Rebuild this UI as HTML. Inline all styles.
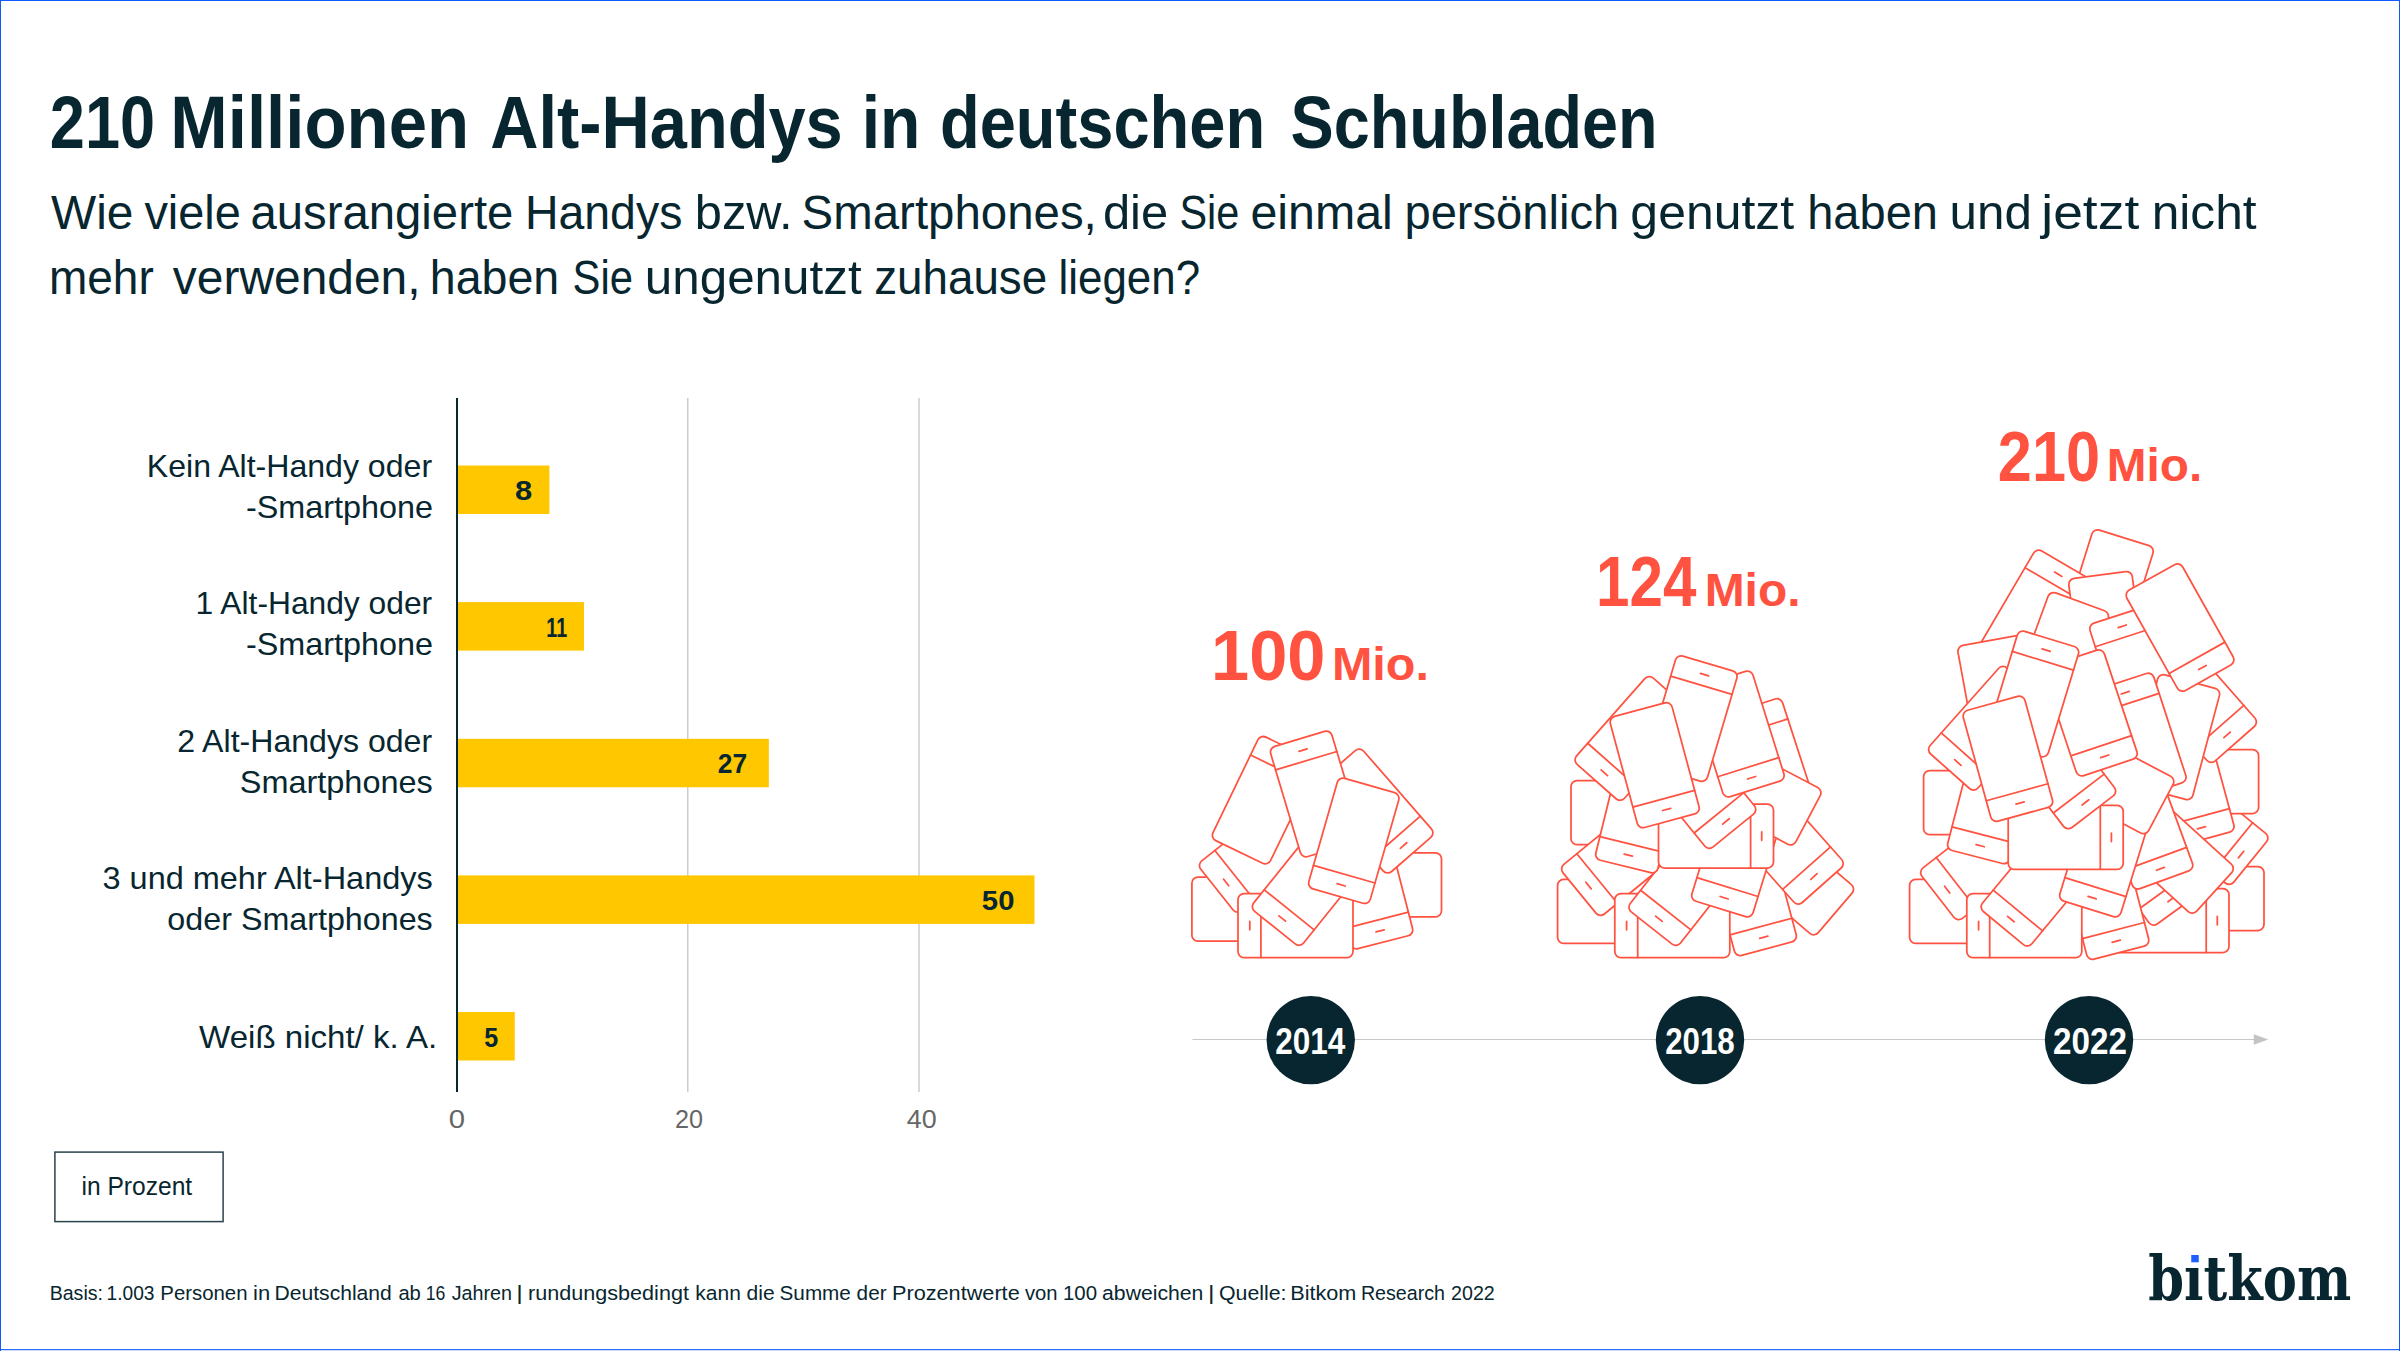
<!DOCTYPE html>
<html lang="de"><head><meta charset="utf-8"><title>210 Millionen Alt-Handys in deutschen Schubladen</title>
<style>
html,body{margin:0;padding:0;background:#ffffff;}
body{width:2400px;height:1351px;overflow:hidden;position:relative;font-family:'Liberation Sans', sans-serif;}
svg{position:absolute;left:0;top:0;display:block;}
.fr{position:absolute;background:#0f5bff;}
</style></head><body>
<svg width="2400" height="1351" viewBox="0 0 2400 1351">
<text x="49.79" y="148.00" font-size="74" font-weight="bold" fill="#07262f" text-anchor="start" font-family="'Liberation Sans', sans-serif" textLength="105.30" lengthAdjust="spacingAndGlyphs">210</text>
<text x="170.34" y="148.00" font-size="74" font-weight="bold" fill="#07262f" text-anchor="start" font-family="'Liberation Sans', sans-serif" textLength="298.84" lengthAdjust="spacingAndGlyphs">Millionen</text>
<text x="490.33" y="148.00" font-size="74" font-weight="bold" fill="#07262f" text-anchor="start" font-family="'Liberation Sans', sans-serif" textLength="352.40" lengthAdjust="spacingAndGlyphs">Alt-Handys</text>
<text x="861.63" y="148.00" font-size="74" font-weight="bold" fill="#07262f" text-anchor="start" font-family="'Liberation Sans', sans-serif" textLength="58.66" lengthAdjust="spacingAndGlyphs">in</text>
<text x="939.90" y="148.00" font-size="74" font-weight="bold" fill="#07262f" text-anchor="start" font-family="'Liberation Sans', sans-serif" textLength="325.33" lengthAdjust="spacingAndGlyphs">deutschen</text>
<text x="1290.56" y="148.00" font-size="74" font-weight="bold" fill="#07262f" text-anchor="start" font-family="'Liberation Sans', sans-serif" textLength="367.09" lengthAdjust="spacingAndGlyphs">Schubladen</text>
<text x="51.01" y="228.50" font-size="47.5" font-weight="normal" fill="#07262f" text-anchor="start" font-family="'Liberation Sans', sans-serif" textLength="82.38" lengthAdjust="spacingAndGlyphs">Wie</text>
<text x="144.38" y="228.50" font-size="47.5" font-weight="normal" fill="#07262f" text-anchor="start" font-family="'Liberation Sans', sans-serif" textLength="96.44" lengthAdjust="spacingAndGlyphs">viele</text>
<text x="250.49" y="228.50" font-size="47.5" font-weight="normal" fill="#07262f" text-anchor="start" font-family="'Liberation Sans', sans-serif" textLength="262.85" lengthAdjust="spacingAndGlyphs">ausrangierte</text>
<text x="524.92" y="228.50" font-size="47.5" font-weight="normal" fill="#07262f" text-anchor="start" font-family="'Liberation Sans', sans-serif" textLength="157.49" lengthAdjust="spacingAndGlyphs">Handys</text>
<text x="694.83" y="228.50" font-size="47.5" font-weight="normal" fill="#07262f" text-anchor="start" font-family="'Liberation Sans', sans-serif" textLength="97.61" lengthAdjust="spacingAndGlyphs">bzw.</text>
<text x="801.62" y="228.50" font-size="47.5" font-weight="normal" fill="#07262f" text-anchor="start" font-family="'Liberation Sans', sans-serif" textLength="295.19" lengthAdjust="spacingAndGlyphs">Smartphones,</text>
<text x="1102.92" y="228.50" font-size="47.5" font-weight="normal" fill="#07262f" text-anchor="start" font-family="'Liberation Sans', sans-serif" textLength="65.26" lengthAdjust="spacingAndGlyphs">die</text>
<text x="1179.39" y="228.50" font-size="47.5" font-weight="normal" fill="#07262f" text-anchor="start" font-family="'Liberation Sans', sans-serif" textLength="59.89" lengthAdjust="spacingAndGlyphs">Sie</text>
<text x="1250.45" y="228.50" font-size="47.5" font-weight="normal" fill="#07262f" text-anchor="start" font-family="'Liberation Sans', sans-serif" textLength="142.36" lengthAdjust="spacingAndGlyphs">einmal</text>
<text x="1404.44" y="228.50" font-size="47.5" font-weight="normal" fill="#07262f" text-anchor="start" font-family="'Liberation Sans', sans-serif" textLength="214.79" lengthAdjust="spacingAndGlyphs">persönlich</text>
<text x="1630.38" y="228.50" font-size="47.5" font-weight="normal" fill="#07262f" text-anchor="start" font-family="'Liberation Sans', sans-serif" textLength="163.77" lengthAdjust="spacingAndGlyphs">genutzt</text>
<text x="1807.21" y="228.50" font-size="47.5" font-weight="normal" fill="#07262f" text-anchor="start" font-family="'Liberation Sans', sans-serif" textLength="130.77" lengthAdjust="spacingAndGlyphs">haben</text>
<text x="1949.54" y="228.50" font-size="47.5" font-weight="normal" fill="#07262f" text-anchor="start" font-family="'Liberation Sans', sans-serif" textLength="82.34" lengthAdjust="spacingAndGlyphs">und</text>
<text x="2041.33" y="228.50" font-size="47.5" font-weight="normal" fill="#07262f" text-anchor="start" font-family="'Liberation Sans', sans-serif" textLength="97.90" lengthAdjust="spacingAndGlyphs">jetzt</text>
<text x="2151.65" y="228.50" font-size="47.5" font-weight="normal" fill="#07262f" text-anchor="start" font-family="'Liberation Sans', sans-serif" textLength="104.97" lengthAdjust="spacingAndGlyphs">nicht</text>
<text x="48.89" y="293.50" font-size="47.5" font-weight="normal" fill="#07262f" text-anchor="start" font-family="'Liberation Sans', sans-serif" textLength="104.84" lengthAdjust="spacingAndGlyphs">mehr</text>
<text x="172.88" y="293.50" font-size="47.5" font-weight="normal" fill="#07262f" text-anchor="start" font-family="'Liberation Sans', sans-serif" textLength="247.69" lengthAdjust="spacingAndGlyphs">verwenden,</text>
<text x="429.74" y="293.50" font-size="47.5" font-weight="normal" fill="#07262f" text-anchor="start" font-family="'Liberation Sans', sans-serif" textLength="129.46" lengthAdjust="spacingAndGlyphs">haben</text>
<text x="572.62" y="293.50" font-size="47.5" font-weight="normal" fill="#07262f" text-anchor="start" font-family="'Liberation Sans', sans-serif" textLength="60.42" lengthAdjust="spacingAndGlyphs">Sie</text>
<text x="644.79" y="293.50" font-size="47.5" font-weight="normal" fill="#07262f" text-anchor="start" font-family="'Liberation Sans', sans-serif" textLength="216.84" lengthAdjust="spacingAndGlyphs">ungenutzt</text>
<text x="874.17" y="293.50" font-size="47.5" font-weight="normal" fill="#07262f" text-anchor="start" font-family="'Liberation Sans', sans-serif" textLength="173.07" lengthAdjust="spacingAndGlyphs">zuhause</text>
<text x="1058.54" y="293.50" font-size="47.5" font-weight="normal" fill="#07262f" text-anchor="start" font-family="'Liberation Sans', sans-serif" textLength="141.51" lengthAdjust="spacingAndGlyphs">liegen?</text>
<g stroke="#cccccc" stroke-width="1.5"><line x1="687.75" y1="398" x2="687.75" y2="1092"/><line x1="919" y1="398" x2="919" y2="1092"/></g>
<rect x="457.0" y="465.5" width="92.40" height="48.5" fill="#ffc700"/>
<rect x="457.0" y="602.1" width="127.05" height="48.5" fill="#ffc700"/>
<rect x="457.0" y="738.8" width="311.85" height="48.5" fill="#ffc700"/>
<rect x="457.0" y="875.4" width="577.50" height="48.5" fill="#ffc700"/>
<rect x="457.0" y="1012.0" width="57.75" height="48.5" fill="#ffc700"/>
<line x1="457.0" y1="398" x2="457.0" y2="1092" stroke="#07262f" stroke-width="2"/>
<text x="514.99" y="500.00" font-size="27" font-weight="bold" fill="#07262f" text-anchor="start" font-family="'Liberation Sans', sans-serif" textLength="17.22" lengthAdjust="spacingAndGlyphs">8</text>
<text x="546.27" y="636.60" font-size="27" font-weight="bold" fill="#07262f" text-anchor="start" font-family="'Liberation Sans', sans-serif" textLength="20.82" lengthAdjust="spacingAndGlyphs">11</text>
<text x="717.82" y="773.20" font-size="27" font-weight="bold" fill="#07262f" text-anchor="start" font-family="'Liberation Sans', sans-serif" textLength="29.41" lengthAdjust="spacingAndGlyphs">27</text>
<text x="981.87" y="909.90" font-size="27" font-weight="bold" fill="#07262f" text-anchor="start" font-family="'Liberation Sans', sans-serif" textLength="32.57" lengthAdjust="spacingAndGlyphs">50</text>
<text x="484.25" y="1046.50" font-size="27" font-weight="bold" fill="#07262f" text-anchor="start" font-family="'Liberation Sans', sans-serif" textLength="13.97" lengthAdjust="spacingAndGlyphs">5</text>
<text x="146.85" y="477.30" font-size="32" font-weight="normal" fill="#07262f" text-anchor="start" font-family="'Liberation Sans', sans-serif" textLength="285.21" lengthAdjust="spacingAndGlyphs">Kein Alt-Handy oder</text>
<text x="246.04" y="518.30" font-size="32" font-weight="normal" fill="#07262f" text-anchor="start" font-family="'Liberation Sans', sans-serif" textLength="186.96" lengthAdjust="spacingAndGlyphs">-Smartphone</text>
<text x="195.62" y="614.30" font-size="32" font-weight="normal" fill="#07262f" text-anchor="start" font-family="'Liberation Sans', sans-serif" textLength="236.50" lengthAdjust="spacingAndGlyphs">1 Alt-Handy oder</text>
<text x="246.04" y="655.30" font-size="32" font-weight="normal" fill="#07262f" text-anchor="start" font-family="'Liberation Sans', sans-serif" textLength="186.96" lengthAdjust="spacingAndGlyphs">-Smartphone</text>
<text x="177.15" y="751.70" font-size="32" font-weight="normal" fill="#07262f" text-anchor="start" font-family="'Liberation Sans', sans-serif" textLength="254.98" lengthAdjust="spacingAndGlyphs">2 Alt-Handys oder</text>
<text x="239.79" y="792.70" font-size="32" font-weight="normal" fill="#07262f" text-anchor="start" font-family="'Liberation Sans', sans-serif" textLength="192.96" lengthAdjust="spacingAndGlyphs">Smartphones</text>
<text x="102.53" y="889.00" font-size="32" font-weight="normal" fill="#07262f" text-anchor="start" font-family="'Liberation Sans', sans-serif" textLength="330.19" lengthAdjust="spacingAndGlyphs">3 und mehr Alt-Handys</text>
<text x="167.38" y="929.70" font-size="32" font-weight="normal" fill="#07262f" text-anchor="start" font-family="'Liberation Sans', sans-serif" textLength="265.34" lengthAdjust="spacingAndGlyphs">oder Smartphones</text>
<text x="199.08" y="1047.80" font-size="32" font-weight="normal" fill="#07262f" text-anchor="start" font-family="'Liberation Sans', sans-serif" textLength="238.19" lengthAdjust="spacingAndGlyphs">Weiß nicht/ k. A.</text>
<text x="448.83" y="1127.50" font-size="25.5" font-weight="normal" fill="#666666" text-anchor="start" font-family="'Liberation Sans', sans-serif" textLength="16.31" lengthAdjust="spacingAndGlyphs">0</text>
<text x="674.99" y="1127.50" font-size="25.5" font-weight="normal" fill="#666666" text-anchor="start" font-family="'Liberation Sans', sans-serif" textLength="28.01" lengthAdjust="spacingAndGlyphs">20</text>
<text x="906.89" y="1127.50" font-size="25.5" font-weight="normal" fill="#666666" text-anchor="start" font-family="'Liberation Sans', sans-serif" textLength="29.93" lengthAdjust="spacingAndGlyphs">40</text>
<rect x="54.9" y="1152.1" width="168.2" height="69.5" fill="none" stroke="#2a434b" stroke-width="1.5"/>
<text x="81.54" y="1194.70" font-size="25.5" font-weight="normal" fill="#07262f" text-anchor="start" font-family="'Liberation Sans', sans-serif" textLength="110.64" lengthAdjust="spacingAndGlyphs">in Prozent</text>
<text x="49.63" y="1299.90" font-size="20.5" font-weight="normal" fill="#07262f" text-anchor="start" font-family="'Liberation Sans', sans-serif" textLength="53.40" lengthAdjust="spacingAndGlyphs">Basis:</text>
<text x="106.56" y="1299.90" font-size="20.5" font-weight="normal" fill="#07262f" text-anchor="start" font-family="'Liberation Sans', sans-serif" textLength="48.00" lengthAdjust="spacingAndGlyphs">1.003</text>
<text x="160.32" y="1299.90" font-size="20.5" font-weight="normal" fill="#07262f" text-anchor="start" font-family="'Liberation Sans', sans-serif" textLength="87.22" lengthAdjust="spacingAndGlyphs">Personen</text>
<text x="253.01" y="1299.90" font-size="20.5" font-weight="normal" fill="#07262f" text-anchor="start" font-family="'Liberation Sans', sans-serif" textLength="17.13" lengthAdjust="spacingAndGlyphs">in</text>
<text x="274.51" y="1299.90" font-size="20.5" font-weight="normal" fill="#07262f" text-anchor="start" font-family="'Liberation Sans', sans-serif" textLength="117.35" lengthAdjust="spacingAndGlyphs">Deutschland</text>
<text x="398.39" y="1299.90" font-size="20.5" font-weight="normal" fill="#07262f" text-anchor="start" font-family="'Liberation Sans', sans-serif" textLength="22.46" lengthAdjust="spacingAndGlyphs">ab</text>
<text x="425.68" y="1299.90" font-size="20.5" font-weight="normal" fill="#07262f" text-anchor="start" font-family="'Liberation Sans', sans-serif" textLength="19.61" lengthAdjust="spacingAndGlyphs">16</text>
<text x="451.70" y="1299.90" font-size="20.5" font-weight="normal" fill="#07262f" text-anchor="start" font-family="'Liberation Sans', sans-serif" textLength="60.28" lengthAdjust="spacingAndGlyphs">Jahren</text>
<text x="516.25" y="1299.90" font-size="20.5" font-weight="normal" fill="#07262f" text-anchor="start" font-family="'Liberation Sans', sans-serif" textLength="6.49" lengthAdjust="spacingAndGlyphs">|</text>
<text x="528.10" y="1299.90" font-size="20.5" font-weight="normal" fill="#07262f" text-anchor="start" font-family="'Liberation Sans', sans-serif" textLength="160.84" lengthAdjust="spacingAndGlyphs">rundungsbedingt</text>
<text x="695.33" y="1299.90" font-size="20.5" font-weight="normal" fill="#07262f" text-anchor="start" font-family="'Liberation Sans', sans-serif" textLength="45.50" lengthAdjust="spacingAndGlyphs">kann</text>
<text x="746.61" y="1299.90" font-size="20.5" font-weight="normal" fill="#07262f" text-anchor="start" font-family="'Liberation Sans', sans-serif" textLength="28.08" lengthAdjust="spacingAndGlyphs">die</text>
<text x="779.57" y="1299.90" font-size="20.5" font-weight="normal" fill="#07262f" text-anchor="start" font-family="'Liberation Sans', sans-serif" textLength="71.32" lengthAdjust="spacingAndGlyphs">Summe</text>
<text x="856.62" y="1299.90" font-size="20.5" font-weight="normal" fill="#07262f" text-anchor="start" font-family="'Liberation Sans', sans-serif" textLength="29.95" lengthAdjust="spacingAndGlyphs">der</text>
<text x="891.96" y="1299.90" font-size="20.5" font-weight="normal" fill="#07262f" text-anchor="start" font-family="'Liberation Sans', sans-serif" textLength="127.75" lengthAdjust="spacingAndGlyphs">Prozentwerte</text>
<text x="1024.95" y="1299.90" font-size="20.5" font-weight="normal" fill="#07262f" text-anchor="start" font-family="'Liberation Sans', sans-serif" textLength="32.61" lengthAdjust="spacingAndGlyphs">von</text>
<text x="1062.97" y="1299.90" font-size="20.5" font-weight="normal" fill="#07262f" text-anchor="start" font-family="'Liberation Sans', sans-serif" textLength="34.07" lengthAdjust="spacingAndGlyphs">100</text>
<text x="1102.10" y="1299.90" font-size="20.5" font-weight="normal" fill="#07262f" text-anchor="start" font-family="'Liberation Sans', sans-serif" textLength="101.25" lengthAdjust="spacingAndGlyphs">abweichen</text>
<text x="1208.05" y="1299.90" font-size="20.5" font-weight="normal" fill="#07262f" text-anchor="start" font-family="'Liberation Sans', sans-serif" textLength="6.49" lengthAdjust="spacingAndGlyphs">|</text>
<text x="1218.99" y="1299.90" font-size="20.5" font-weight="normal" fill="#07262f" text-anchor="start" font-family="'Liberation Sans', sans-serif" textLength="67.45" lengthAdjust="spacingAndGlyphs">Quelle:</text>
<text x="1290.21" y="1299.90" font-size="20.5" font-weight="normal" fill="#07262f" text-anchor="start" font-family="'Liberation Sans', sans-serif" textLength="66.22" lengthAdjust="spacingAndGlyphs">Bitkom</text>
<text x="1360.88" y="1299.90" font-size="20.5" font-weight="normal" fill="#07262f" text-anchor="start" font-family="'Liberation Sans', sans-serif" textLength="84.15" lengthAdjust="spacingAndGlyphs">Research</text>
<text x="1451.02" y="1299.90" font-size="20.5" font-weight="normal" fill="#07262f" text-anchor="start" font-family="'Liberation Sans', sans-serif" textLength="43.76" lengthAdjust="spacingAndGlyphs">2022</text>
<line x1="1192.5" y1="1039.5" x2="2256" y2="1039.5" stroke="#c8c8c8" stroke-width="1.2"/>
<path d="M2253.75 1034.25 L2268.25 1039.5 L2253.75 1044.75 Z" fill="#c4c4c4"/>
<circle cx="1310.75" cy="1040.1" r="44.2" fill="#07262f"/>
<text x="1275.15" y="1053.75" font-size="36" font-weight="bold" fill="#ffffff" text-anchor="start" font-family="'Liberation Sans', sans-serif" textLength="70.08" lengthAdjust="spacingAndGlyphs">2014</text>
<circle cx="1700" cy="1040.1" r="44.2" fill="#07262f"/>
<text x="1665.15" y="1053.75" font-size="36" font-weight="bold" fill="#ffffff" text-anchor="start" font-family="'Liberation Sans', sans-serif" textLength="69.60" lengthAdjust="spacingAndGlyphs">2018</text>
<circle cx="2089" cy="1040.1" r="44.2" fill="#07262f"/>
<text x="2053.09" y="1053.75" font-size="36" font-weight="bold" fill="#ffffff" text-anchor="start" font-family="'Liberation Sans', sans-serif" textLength="73.98" lengthAdjust="spacingAndGlyphs">2022</text>
<text x="1211.01" y="680.30" font-size="70" font-weight="bold" fill="#ff5240" text-anchor="start" font-family="'Liberation Sans', sans-serif" textLength="114.40" lengthAdjust="spacingAndGlyphs">100</text>
<text x="1331.92" y="680.30" font-size="46" font-weight="bold" fill="#ff5240" text-anchor="start" font-family="'Liberation Sans', sans-serif" textLength="97.03" lengthAdjust="spacingAndGlyphs">Mio.</text>
<text x="1596.04" y="605.50" font-size="70" font-weight="bold" fill="#ff5240" text-anchor="start" font-family="'Liberation Sans', sans-serif" textLength="100.32" lengthAdjust="spacingAndGlyphs">124</text>
<text x="1704.66" y="605.50" font-size="46" font-weight="bold" fill="#ff5240" text-anchor="start" font-family="'Liberation Sans', sans-serif" textLength="95.85" lengthAdjust="spacingAndGlyphs">Mio.</text>
<text x="1997.86" y="480.50" font-size="70" font-weight="bold" fill="#ff5240" text-anchor="start" font-family="'Liberation Sans', sans-serif" textLength="102.15" lengthAdjust="spacingAndGlyphs">210</text>
<text x="2106.78" y="480.50" font-size="46" font-weight="bold" fill="#ff5240" text-anchor="start" font-family="'Liberation Sans', sans-serif" textLength="95.42" lengthAdjust="spacingAndGlyphs">Mio.</text>
<text x="2148.25" y="1300.00" font-size="61.6" font-weight="bold" fill="#07262f" text-anchor="start" font-family="'DejaVu Serif', serif" textLength="202.99" lengthAdjust="spacingAndGlyphs">bitkom</text>
<rect x="2188" y="1249" width="14" height="17" fill="#ffffff"/><rect x="2191.25" y="1255" width="7.5" height="7.3" fill="#1f5fff"/>
<g fill="#ffffff" stroke="#ff5240" stroke-width="1.75" stroke-linecap="round">
<g transform="translate(1248.4 909.2) rotate(-90.0)"><rect x="-32.0" y="-56.5" width="64" height="115" rx="6"/><path d="M-32.0 35.7H32.0M-4.25 46.8H4.25"/></g>
<g transform="translate(1385.0 884.8) rotate(90.0)"><rect x="-32.0" y="-56.5" width="64" height="115" rx="6"/><path d="M-32.0 35.7H32.0M-4.25 46.8H4.25"/></g>
<g transform="translate(1261.2 854.5) rotate(51.5)"><rect x="-32.0" y="-58.5" width="64" height="115" rx="6"/><path d="M-32.0 33.7H32.0M-4.25 44.8H4.25"/></g>
<g transform="translate(1369.0 887.5) rotate(-14.4)"><rect x="-32.0" y="-58.5" width="64" height="115" rx="6"/><path d="M-32.0 33.7H32.0M-4.25 44.8H4.25"/></g>
<g transform="translate(1295.5 925.6) rotate(90.0)"><rect x="-32.0" y="-57.5" width="64" height="115" rx="6"/><path d="M-32.0 34.6H32.0M-4.25 45.709999999999994H4.25"/></g>
<g transform="translate(1310.3 883.6) rotate(38.8)"><rect x="-32.0" y="-58.5" width="64" height="115" rx="6"/><path d="M-32.0 33.7H32.0M-4.25 44.8H4.25"/></g>
<g transform="translate(1263.8 801.1) rotate(205.8)"><rect x="-32.0" y="-56.5" width="64" height="115" rx="6"/><path d="M-32.0 35.7H32.0M-4.25 46.8H4.25"/></g>
<g transform="translate(1374.1 811.8) rotate(-41.1)"><rect x="-32.0" y="-58.5" width="64" height="115" rx="6"/><path d="M-32.0 33.7H32.0M-4.25 44.8H4.25"/></g>
<g transform="translate(1315.9 793.0) rotate(163.3)"><rect x="-32.0" y="-58.5" width="64" height="115" rx="6"/><path d="M-32.0 33.7H32.0M-4.25 44.8H4.25"/></g>
<g transform="translate(1353.8 840.8) rotate(16.0)"><rect x="-32.0" y="-57.5" width="64" height="115" rx="6"/><path d="M-32.0 34.7H32.0M-4.25 45.8H4.25"/></g>
<g transform="translate(1614.1 911.3) rotate(-90.0)"><rect x="-32.0" y="-56.5" width="64" height="115" rx="6"/><path d="M-32.0 35.7H32.0M-4.25 46.8H4.25"/></g>
<g transform="translate(1627.5 812.7) rotate(-90.0)"><rect x="-32.0" y="-56.5" width="64" height="115" rx="6"/><path d="M-32.0 35.7H32.0M-4.25 46.8H4.25"/></g>
<g transform="translate(1623.2 857.2) rotate(50.7)"><rect x="-32.0" y="-58.5" width="64" height="115" rx="6"/><path d="M-32.0 33.7H32.0M-4.25 44.8H4.25"/></g>
<g transform="translate(1792.2 876.2) rotate(130.5)"><rect x="-32.0" y="-56.5" width="64" height="115" rx="6"/></g>
<g transform="translate(1752.2 894.0) rotate(-15.0)"><rect x="-32.0" y="-58.5" width="64" height="115" rx="6"/><path d="M-32.0 33.7H32.0M-4.25 44.8H4.25"/></g>
<g transform="translate(1784.2 843.0) rotate(-41.6)"><rect x="-32.0" y="-58.5" width="64" height="115" rx="6"/><path d="M-32.0 33.7H32.0M-4.25 44.8H4.25"/></g>
<g transform="translate(1767.8 760.8) rotate(162.0)"><rect x="-32.0" y="-58.5" width="64" height="115" rx="6"/><path d="M-32.0 33.7H32.0M-4.25 44.8H4.25"/></g>
<g transform="translate(1672.3 925.6) rotate(90.0)"><rect x="-32.0" y="-57.5" width="64" height="115" rx="6"/><path d="M-32.0 34.6H32.0M-4.25 45.709999999999994H4.25"/></g>
<g transform="translate(1686.6 883.6) rotate(38.2)"><rect x="-32.0" y="-58.5" width="64" height="115" rx="6"/><path d="M-32.0 33.7H32.0M-4.25 44.8H4.25"/></g>
<g transform="translate(1737.4 854.9) rotate(17.1)"><rect x="-32.0" y="-58.5" width="64" height="115" rx="6"/><path d="M-32.0 33.7H32.0M-4.25 44.8H4.25"/></g>
<g transform="translate(1758.1 792.3) rotate(117.8)"><rect x="-32.0" y="-56.5" width="64" height="115" rx="6"/></g>
<g transform="translate(1639.0 811.6) rotate(13.8)"><rect x="-32.0" y="-58.5" width="64" height="115" rx="6"/><path d="M-32.0 33.7H32.0M-4.25 44.8H4.25"/></g>
<g transform="translate(1716.0 836.0) rotate(-90.0)"><rect x="-32.0" y="-57.5" width="64" height="115" rx="6"/><path d="M-32.0 34.6H32.0M-4.25 45.709999999999994H4.25"/></g>
<g transform="translate(1697.7 786.7) rotate(-39.1)"><rect x="-32.0" y="-58.5" width="64" height="115" rx="6"/><path d="M-32.0 33.7H32.0M-4.25 44.8H4.25"/></g>
<g transform="translate(1634.0 739.2) rotate(41.5)"><rect x="-32.0" y="-58.5" width="64" height="115" rx="6"/><path d="M-32.0 33.7H32.0M-4.25 44.8H4.25"/></g>
<g transform="translate(1738.2 735.0) rotate(-17.4)"><rect x="-32.0" y="-58.5" width="64" height="115" rx="6"/><path d="M-32.0 33.7H32.0M-4.25 44.8H4.25"/></g>
<g transform="translate(1691.8 717.6) rotate(196.5)"><rect x="-32.0" y="-58.5" width="64" height="115" rx="6"/><path d="M-32.0 33.7H32.0M-4.25 44.8H4.25"/></g>
<g transform="translate(1654.7 765.2) rotate(-15.1)"><rect x="-32.0" y="-57.5" width="64" height="115" rx="6"/><path d="M-32.0 34.7H32.0M-4.25 45.8H4.25"/></g>
<g transform="translate(1966.1 911.3) rotate(-90.0)"><rect x="-32.0" y="-56.5" width="64" height="115" rx="6"/><path d="M-32.0 35.7H32.0M-4.25 46.8H4.25"/></g>
<g transform="translate(1980.1 802.7) rotate(-90.0)"><rect x="-32.0" y="-56.5" width="64" height="115" rx="6"/><path d="M-32.0 35.7H32.0M-4.25 46.8H4.25"/></g>
<g transform="translate(2207.5 898.5) rotate(90.0)"><rect x="-32.0" y="-56.5" width="64" height="115" rx="6"/><path d="M-32.0 35.7H32.0M-4.25 46.8H4.25"/></g>
<g transform="translate(2206.3 826.3) rotate(-50.9)"><rect x="-32.0" y="-58.5" width="64" height="115" rx="6"/><path d="M-32.0 33.7H32.0M-4.25 44.8H4.25"/></g>
<g transform="translate(2202.1 781.5) rotate(90.0)"><rect x="-32.0" y="-56.5" width="64" height="115" rx="6"/><path d="M-32.0 35.7H32.0M-4.25 46.8H4.25"/></g>
<g transform="translate(2172.5 920.5) rotate(-90.0)"><rect x="-32.0" y="-58.5" width="64" height="115" rx="6"/><path d="M-32.0 33.7H32.0M-4.25 44.8H4.25"/></g>
<g transform="translate(1982.5 862.1) rotate(52.1)"><rect x="-32.0" y="-58.5" width="64" height="115" rx="6"/><path d="M-32.0 33.7H32.0M-4.25 44.8H4.25"/></g>
<g transform="translate(2145.2 862.9) rotate(-35.8)"><rect x="-32.0" y="-58.5" width="64" height="115" rx="6"/><path d="M-32.0 33.7H32.0M-4.25 44.8H4.25"/></g>
<g transform="translate(2105.0 897.9) rotate(-14.5)"><rect x="-32.0" y="-58.5" width="64" height="115" rx="6"/><path d="M-32.0 33.7H32.0M-4.25 44.8H4.25"/></g>
<g transform="translate(2189.7 784.5) rotate(-15.2)"><rect x="-32.0" y="-58.5" width="64" height="115" rx="6"/><path d="M-32.0 33.7H32.0M-4.25 44.8H4.25"/></g>
<g transform="translate(2172.4 853.9) rotate(132.3)"><rect x="-32.0" y="-56.5" width="64" height="115" rx="6"/></g>
<g transform="translate(2145.0 826.7) rotate(-20.1)"><rect x="-32.0" y="-58.5" width="64" height="115" rx="6"/><path d="M-32.0 33.7H32.0M-4.25 44.8H4.25"/></g>
<g transform="translate(2024.3 925.6) rotate(90.0)"><rect x="-32.0" y="-57.5" width="64" height="115" rx="6"/><path d="M-32.0 34.6H32.0M-4.25 45.709999999999994H4.25"/></g>
<g transform="translate(2039.4 884.5) rotate(39.6)"><rect x="-32.0" y="-58.5" width="64" height="115" rx="6"/><path d="M-32.0 33.7H32.0M-4.25 44.8H4.25"/></g>
<g transform="translate(2105.4 854.9) rotate(17.2)"><rect x="-32.0" y="-58.5" width="64" height="115" rx="6"/><path d="M-32.0 33.7H32.0M-4.25 44.8H4.25"/></g>
<g transform="translate(2197.5 701.2) rotate(-41.3)"><rect x="-32.0" y="-58.5" width="64" height="115" rx="6"/><path d="M-32.0 33.7H32.0M-4.25 44.8H4.25"/></g>
<g transform="translate(2107.3 591.8) rotate(17.4)"><rect x="-32.0" y="-56.5" width="64" height="115" rx="6"/></g>
<g transform="translate(2035.6 612.9) rotate(210.4)"><rect x="-32.0" y="-58.5" width="64" height="115" rx="6"/><path d="M-32.0 33.7H32.0M-4.25 44.8H4.25"/></g>
<g transform="translate(1998.6 696.3) rotate(-10.4)"><rect x="-32.0" y="-56.5" width="64" height="115" rx="6"/></g>
<g transform="translate(2107.1 631.0) rotate(-7.4)"><rect x="-32.0" y="-56.5" width="64" height="115" rx="6"/></g>
<g transform="translate(2060.7 654.9) rotate(20.1)"><rect x="-32.0" y="-56.5" width="64" height="115" rx="6"/></g>
<g transform="translate(2136.1 668.9) rotate(162.0)"><rect x="-32.0" y="-58.5" width="64" height="115" rx="6"/><path d="M-32.0 33.7H32.0M-4.25 44.8H4.25"/></g>
<g transform="translate(2175.5 736.2) rotate(14.9)"><rect x="-32.0" y="-56.5" width="64" height="115" rx="6"/></g>
<g transform="translate(2139.1 735.3) rotate(162.0)"><rect x="-32.0" y="-58.5" width="64" height="115" rx="6"/><path d="M-32.0 33.7H32.0M-4.25 44.8H4.25"/></g>
<g transform="translate(2111.0 781.0) rotate(117.9)"><rect x="-32.0" y="-56.5" width="64" height="115" rx="6"/></g>
<g transform="translate(1991.4 802.3) rotate(14.5)"><rect x="-32.0" y="-58.5" width="64" height="115" rx="6"/><path d="M-32.0 33.7H32.0M-4.25 44.8H4.25"/></g>
<g transform="translate(1987.6 729.0) rotate(41.6)"><rect x="-32.0" y="-58.5" width="64" height="115" rx="6"/><path d="M-32.0 33.7H32.0M-4.25 44.8H4.25"/></g>
<g transform="translate(2065.7 837.3) rotate(-90.0)"><rect x="-32.0" y="-57.5" width="64" height="115" rx="6"/><path d="M-32.0 34.6H32.0M-4.25 45.709999999999994H4.25"/></g>
<g transform="translate(2058.3 766.8) rotate(-37.4)"><rect x="-32.0" y="-58.5" width="64" height="115" rx="6"/><path d="M-32.0 33.7H32.0M-4.25 44.8H4.25"/></g>
<g transform="translate(2090.6 713.8) rotate(-18.4)"><rect x="-32.0" y="-58.5" width="64" height="115" rx="6"/><path d="M-32.0 33.7H32.0M-4.25 44.8H4.25"/></g>
<g transform="translate(2033.1 693.0) rotate(196.9)"><rect x="-32.0" y="-58.5" width="64" height="115" rx="6"/><path d="M-32.0 33.7H32.0M-4.25 44.8H4.25"/></g>
<g transform="translate(2007.9 758.8) rotate(-15.4)"><rect x="-32.0" y="-57.5" width="64" height="115" rx="6"/><path d="M-32.0 34.7H32.0M-4.25 45.8H4.25"/></g>
<g transform="translate(2180.5 628.4) rotate(-29.3)"><rect x="-32.0" y="-58.5" width="64" height="115" rx="6"/><path d="M-32.0 33.7H32.0M-4.25 44.8H4.25"/></g>
</g>
</svg>
<div class="fr" style="left:0;top:1350px;width:2400px;height:1px;background:#ccdcff"></div><div class="fr" style="left:0;top:1349px;width:2400px;height:1px;background:#2a6bff"></div><div class="fr" style="left:0;top:0;width:2400px;height:1px"></div><div class="fr" style="left:0;top:0;width:1px;height:1351px"></div><div class="fr" style="left:2399px;top:0;width:1px;height:1351px"></div>
</body></html>
